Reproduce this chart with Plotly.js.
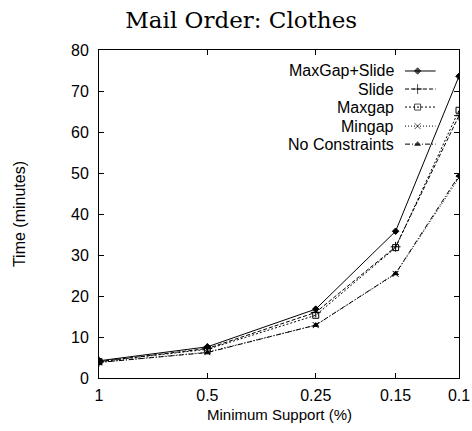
<!DOCTYPE html>
<html>
<head>
<meta charset="utf-8">
<script src="https://cdn.plot.ly/plotly-3.0.1.min.js"></script>
<style>html,body{margin:0;padding:0;background:#fff;}#chart{width:472px;height:431px;}</style>
</head>
<body>
<div id="chart"></div>
<script>
// ---- data ----
var supports = [1, 0.5, 0.25, 0.15, 0.1];
var supportLabels = ['1', '0.5', '0.25', '0.15', '0.1'];
var seriesNames = ['MaxGap+Slide', 'Slide', 'Maxgap', 'Mingap', 'No Constraints'];
var maxgapSlide = [4.2, 7.6, 16.8, 35.8, 73.6];
var slide = [4.0, 7.2, 16.0, 32.0, 64.0];
var maxgap = [4.0, 7.0, 15.3, 31.8, 65.3];
var mingap = [3.8, 6.3, 12.9, 25.4, 48.8];
var noConstraints = [3.8, 6.2, 12.9, 25.5, 49.4];
var yTicks = [0, 10, 20, 30, 40, 50, 60, 70, 80];

// ---- styles ----
var seriesValues = [maxgapSlide, slide, maxgap, mingap, noConstraints];
var dashes = ['solid', '4px,2px', '2px,2px', '1px,2px', '5px,2px,1px,2px'];
var symbols = ['diamond', 'cross-thin-open', 'square-open', 'x-thin-open', 'triangle-up'];
var sizes = [5, 7, 6, 6, 5];

var traces = [];
for (var i = 0; i < seriesNames.length; i++) {
  traces.push({
    x: supports, y: seriesValues[i], name: seriesNames[i],
    type: 'scatter', mode: 'lines+markers', showlegend: false,
    line: {color: '#000', width: 1, dash: dashes[i]},
    marker: {symbol: symbols[i], size: sizes[i], color: '#000', line: {color: '#000', width: 1}}
  });
}

// custom key (text left, sample right) in plot-area fraction coordinates
var keyTextX = 0.825, keyX0 = 0.85, keyXm = 0.885, keyX1 = 0.935;
var keyRows = [0.936, 0.881, 0.826, 0.768, 0.713];
var annotations = [];
for (var i = 0; i < seriesNames.length; i++) {
  traces.push({
    x: [keyX0, keyXm, keyX1], y: [keyRows[i], keyRows[i], keyRows[i]],
    xaxis: 'x2', yaxis: 'y2', type: 'scatter', mode: 'lines+markers', showlegend: false, hoverinfo: 'skip',
    line: {color: '#000', width: 1, dash: dashes[i]},
    marker: {symbol: symbols[i], size: [0, sizes[i], 0], color: '#000', line: {color: '#000', width: 1}}
  });
  annotations.push({
    xref: 'paper', yref: 'paper', x: keyTextX, y: keyRows[i], xanchor: 'right', yanchor: 'middle',
    text: seriesNames[i], showarrow: false, font: {family: 'Liberation Sans, Arial, sans-serif', size: 16, color: '#000'}
  });
}
annotations.push({
  xref: 'paper', yref: 'paper', x: 0.5, y: -0.08, xanchor: 'center', yanchor: 'top',
  text: 'Minimum Support (%)', showarrow: false, font: {family: 'Liberation Sans, Arial, sans-serif', size: 15, color: '#000'}
});
annotations.push({
  xref: 'paper', yref: 'paper', x: -0.222, y: 0.5, xanchor: 'center', yanchor: 'middle', textangle: -90,
  text: 'Time (minutes)', showarrow: false, font: {family: 'Liberation Sans, Arial, sans-serif', size: 16, color: '#000'}
});

var layout = {
  width: 472, height: 431,
  margin: {l: 99, r: 13, t: 50, b: 53},
  paper_bgcolor: '#fff', plot_bgcolor: '#fff',
  font: {family: 'Liberation Sans, Arial, sans-serif', size: 16, color: '#000'},
  title: {text: 'Mail Order: Clothes', x: 0.511, xref: 'container', xanchor: 'center', y: 0.954, yref: 'container', yanchor: 'middle',
          font: {family: 'DejaVu Serif, serif', size: 23, color: '#000'}},
  xaxis: {type: 'log', range: [0, -1], tickvals: supports, ticktext: supportLabels,
          showgrid: false, zeroline: false, showline: true, linecolor: '#000', linewidth: 1, mirror: 'ticks',
          ticks: 'inside', ticklen: 5, tickcolor: '#000', tickwidth: 1, ticklabelstandoff: 3},
  yaxis: {range: [0, 80], tickvals: yTicks, showgrid: false, zeroline: false, showline: true, linecolor: '#000', linewidth: 1,
          mirror: 'ticks', ticks: 'inside', ticklen: 5, tickcolor: '#000', tickwidth: 1, ticklabelstandoff: 6},
  xaxis2: {overlaying: 'x', range: [0, 1], visible: false, fixedrange: true},
  yaxis2: {overlaying: 'y', range: [0, 1], visible: false, fixedrange: true},
  annotations: annotations,
  showlegend: false
};
Plotly.newPlot('chart', traces, layout, {displayModeBar: false, staticPlot: true});
</script>
</body>
</html>
